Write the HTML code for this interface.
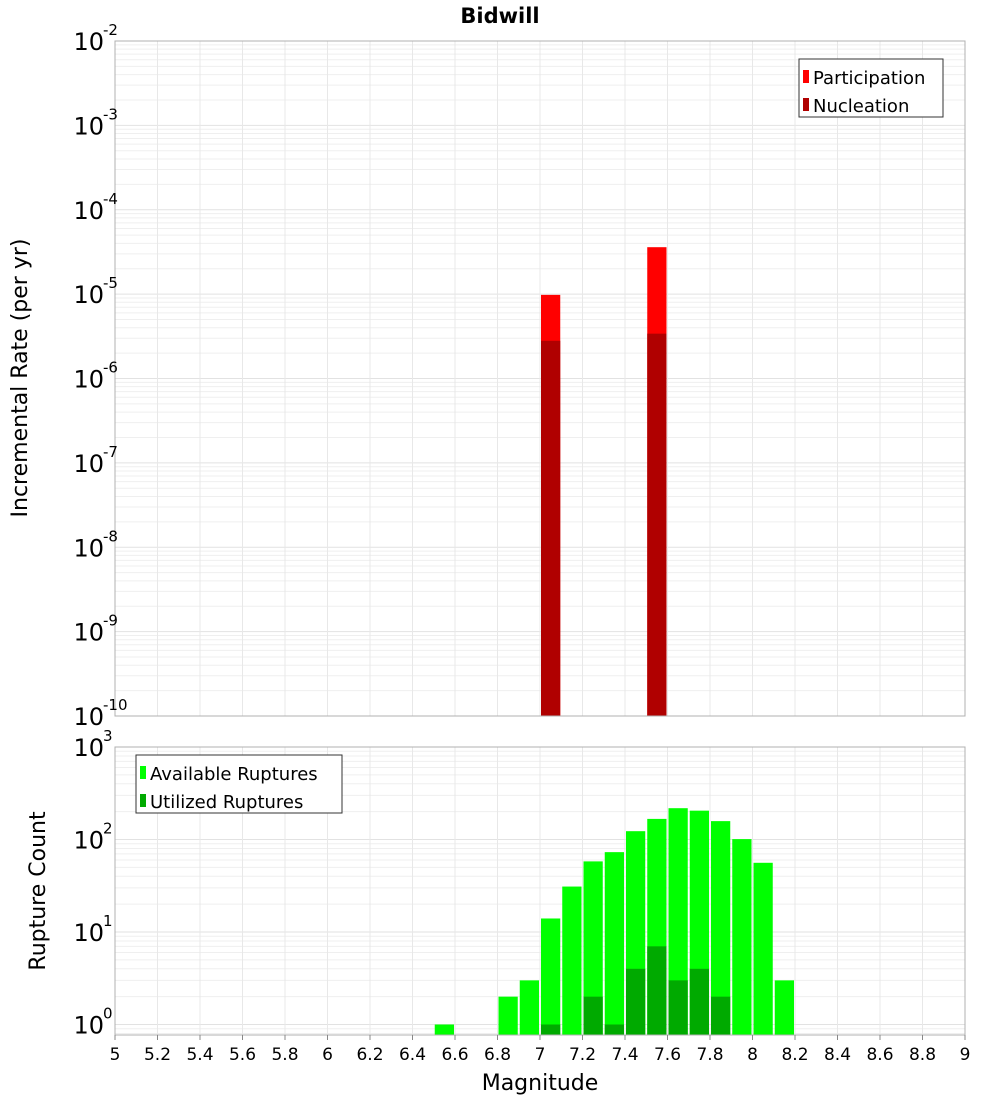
<!DOCTYPE html>
<html><head><meta charset="utf-8"><style>
html,body{margin:0;padding:0;background:#fff;}
svg text{font-family:"DejaVu Sans","Liberation Sans",sans-serif;}
</style></head><body>
<svg id="c" width="1000" height="1100" xmlns="http://www.w3.org/2000/svg">
<text x="500" y="23" text-anchor="middle" font-size="21" font-weight="bold">Bidwill</text>
<g id="top"></g>
<g id="bot"></g>
<text transform="translate(27,378) rotate(-90)" text-anchor="middle" font-size="22">Incremental Rate (per yr)</text>
<text transform="translate(45,891) rotate(-90)" text-anchor="middle" font-size="22">Rupture Count</text>
<text x="540" y="1090" text-anchor="middle" font-size="22">Magnitude</text>
</svg>
<script>
const partMags=[7.05,7.55];
const partVals=[9.8e-6,3.6e-5];
const nuclMags=[7.05,7.55];
const nuclVals=[2.8e-6,3.4e-6];
const availMags=[6.55,6.85,6.95,7.05,7.15,7.25,7.35,7.45,7.55,7.65,7.75,7.85,7.95,8.05,8.15];
const availVals=[1,2,3,14,31,58,73,123,167,218,205,158,101,56,3];
const utilMags=[7.05,7.25,7.35,7.45,7.55,7.65,7.75,7.85];
const utilVals=[1,2,1,4,7,3,4,2];
const xTicks=[5,5.2,5.4,5.6,5.8,6,6.2,6.4,6.6,6.8,7,7.2,7.4,7.6,7.8,8,8.2,8.4,8.6,8.8,9];
const topExp=[-2,-3,-4,-5,-6,-7,-8,-9,-10];
const botExp=[3,2,1,0];

const NS="http://www.w3.org/2000/svg";
const X0=115,X1=965,XMIN=5,XMAX=9;
const xs=m=>X0+(m-XMIN)/(XMAX-XMIN)*(X1-X0);
function el(p,t,a){const e=document.createElementNS(NS,t);for(const k in a)e.setAttribute(k,a[k]);p.appendChild(e);return e;}
function panel(g,top,bot,lmax,lmin,ybot){
  const ys=v=>top+(lmax-Math.log10(v))/(lmax-lmin)*(ybot-top);
  const bg=el(g,'rect',{x:X0,y:top,width:X1-X0,height:bot-top,fill:'#fff'});
  
  
  for(let e=Math.floor(lmin)-1;e<lmax;e++){for(let k=1;k<10;k++){const v=k*Math.pow(10,e);const y=ys(v);if(y<top-0.1||y>bot+0.1)continue;
    const l=el(g,'line',{x1:X0,x2:X1,y1:y,y2:y,stroke:k==1?'#e2e2e2':'#efefef','stroke-width':1});
    
    }}
  xTicks.forEach(t=>{const x=xs(t);const l=el(g,'line',{x1:x,x2:x,y1:top,y2:bot,stroke:'#e8e8e8','stroke-width':1});
    
    });
  return ys;
}
function bars(g,mags,vals,ys,base,fill,name){
  mags.forEach((m,i)=>{const x=xs(m-0.05)+1;const w=xs(m+0.05)-xs(m-0.05)-2;const y=ys(vals[i]);
    const r=el(g,'rect',{x:x,y:y,width:w,height:base-y,fill:fill});
    
    });
}
function frame(g,top,bot){const f=el(g,'rect',{x:X0,y:top,width:X1-X0,height:bot-top,fill:'none',stroke:'#b0b0b0','stroke-width':1});
  
  }
function ylabels(g,exps,ys){exps.forEach(e=>{const y=ys(Math.pow(10,e));
  const t=el(g,'text',{x:104,y:y+9,'text-anchor':'end','font-size':24});
  
  
  t.textContent='10';
  const s=el(g,'text',{x:103,y:y-6,'text-anchor':'start','font-size':15});
  
  
  s.textContent=String(e);});}
function legend(g,x,y,w,items){const b=el(g,'rect',{x:x,y:y,width:w,height:58,fill:'#fff',stroke:'#333','stroke-width':1});
  
  
  items.forEach((it,i)=>{const yy=y+18+i*28;
    const s=el(g,'rect',{x:x+4,y:yy-7,width:6,height:13,fill:it[1]});
    
    
    const t=el(g,'text',{x:x+14,y:yy+7,'font-size':18});
    
    
    t.textContent=it[0];});}

const gt=document.getElementById('top');
const yt=panel(gt,41,716,-2,-10,716);
bars(gt,partMags,partVals,yt,716,'#ff0000','participation-bar');
bars(gt,nuclMags,nuclVals,yt,716,'#b00000','nucleation-bar');
frame(gt,41,716);
ylabels(gt,topExp,yt);
legend(gt,799,59,144,[['Participation','#ff0000'],['Nucleation','#b00000']]);

const gb=document.getElementById('bot');
const yb=panel(gb,747,1035,3,0,1024.5);
bars(gb,availMags,availVals,yb,1035,'#00ff00','available-bar');
bars(gb,utilMags,utilVals,yb,1035,'#00aa00','utilized-bar');
frame(gb,747,1035);
ylabels(gb,botExp,yb);
legend(gb,136,755,206,[['Available Ruptures','#00ff00'],['Utilized Ruptures','#00aa00']]);
xTicks.forEach(t=>{const x=xs(t);
  const l=el(gb,'line',{x1:x,x2:x,y1:1035,y2:1040,stroke:'#888'});
  
  
  const tx=el(gb,'text',{x:x,y:1060,'text-anchor':'middle','font-size':17});
  
  
  tx.textContent=String(t);});
</script>
</body></html>
